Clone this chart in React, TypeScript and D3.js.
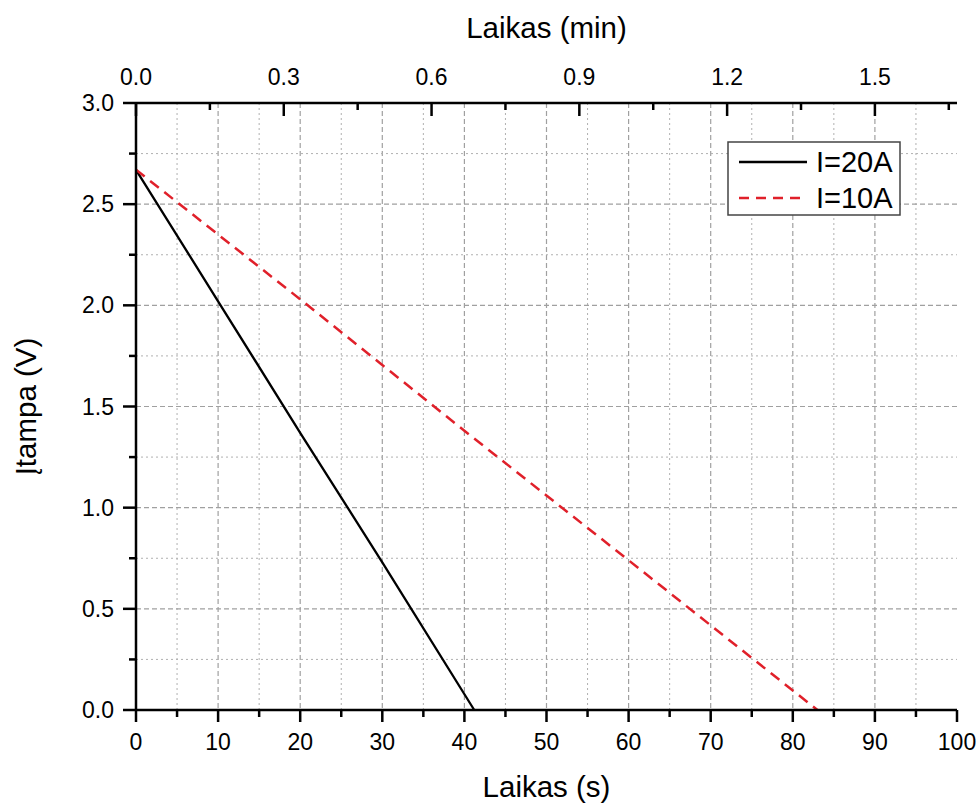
import React from "react";
import * as d3 from "d3";

const seriesNames = ["I=20A", "I=10A"];
const time20A = [0, 10, 20, 30, 41.2];
const volt20A = [2.67, 2.02, 1.37, 0.73, 0.0];
const time10A = [0, 20, 40, 60, 83.0];
const volt10A = [2.67, 2.03, 1.38, 0.74, 0.0];

const xMajorTicks = [0, 10, 20, 30, 40, 50, 60, 70, 80, 90, 100];
const xMinorTicks = [5, 15, 25, 35, 45, 55, 65, 75, 85, 95];
const yMajorTicks = [0, 0.5, 1.0, 1.5, 2.0, 2.5, 3.0];
const yMinorTicks = [0.25, 0.75, 1.25, 1.75, 2.25, 2.75];
const topMajorTicks = [0, 0.3, 0.6, 0.9, 1.2, 1.5];
const topMinorTicks = [0.15, 0.45, 0.75, 1.05, 1.35, 1.65];

const W = 979;
const H = 805;
const left = 136;
const right = 957;
const top = 103;
const bottom = 710;
const FONT = "'Liberation Sans', Arial, sans-serif";

export default function App() {
  const x = d3.scaleLinear().domain([0, 100]).range([left, right]);
  const xMin = d3.scaleLinear().domain([0, 100 / 60]).range([left, right]);
  const y = d3.scaleLinear().domain([0, 3]).range([bottom, top]);
  const line = d3
    .line<[number, number]>()
    .x((d) => x(d[0]))
    .y((d) => y(d[1]));
  const d20 = time20A.map((t, i) => [t, volt20A[i]] as [number, number]);
  const d10 = time10A.map((t, i) => [t, volt10A[i]] as [number, number]);

  return (
    <div style={{ position: "absolute", left: 0, top: 0 }}>
      <svg width={W} height={H} style={{ display: "block", background: "#fff" }} fontFamily={FONT}>
        <rect x={0} y={0} width={W} height={H} fill="#fff" />
        {/* grid */}
        <g>
          {xMinorTicks.map((t) => (
            <line key={"gxm" + t} x1={x(t)} x2={x(t)} y1={top} y2={bottom} stroke="#b0b0b0" strokeWidth={1} strokeDasharray="2,3" />
          ))}
          {xMajorTicks.filter((t) => t > 0 && t < 100).map((t) => (
            <line key={"gxM" + t} x1={x(t)} x2={x(t)} y1={top} y2={bottom} stroke="#a0a0a0" strokeWidth={1.2} strokeDasharray="5,3" />
          ))}
          {yMinorTicks.map((t) => (
            <line key={"gym" + t} x1={left} x2={right} y1={y(t)} y2={y(t)} stroke="#b0b0b0" strokeWidth={1} strokeDasharray="2,3" />
          ))}
          {yMajorTicks.filter((t) => t > 0 && t < 3).map((t) => (
            <line key={"gyM" + t} x1={left} x2={right} y1={y(t)} y2={y(t)} stroke="#a0a0a0" strokeWidth={1.2} strokeDasharray="5,3" />
          ))}
        </g>
        {/* data */}
        <path d={line(d20) || ""} fill="none" stroke="#000" strokeWidth={2.3} />
        <path d={line(d10) || ""} fill="none" stroke="#e0202a" strokeWidth={2.5} strokeDasharray="11,7" />
        {/* axes */}
        <g stroke="#000" strokeWidth={2.5}>
          <line x1={left} x2={right} y1={bottom} y2={bottom} />
          <line x1={left} x2={right} y1={top} y2={top} />
          <line x1={left} x2={left} y1={top} y2={bottom} />
          {xMajorTicks.map((t) => (
            <line key={"bt" + t} x1={x(t)} x2={x(t)} y1={bottom} y2={bottom + 12} />
          ))}
          {xMinorTicks.map((t) => (
            <line key={"btm" + t} x1={x(t)} x2={x(t)} y1={bottom} y2={bottom + 7} />
          ))}
          {yMajorTicks.map((t) => (
            <line key={"lt" + t} x1={left - 13} x2={left} y1={y(t)} y2={y(t)} />
          ))}
          {yMinorTicks.map((t) => (
            <line key={"ltm" + t} x1={left - 7} x2={left} y1={y(t)} y2={y(t)} />
          ))}
          {topMajorTicks.map((t) => (
            <line key={"tt" + t} x1={xMin(t)} x2={xMin(t)} y1={top} y2={top + 13} />
          ))}
          {topMinorTicks.map((t) => (
            <line key={"ttm" + t} x1={xMin(t)} x2={xMin(t)} y1={top} y2={top + 7} />
          ))}
        </g>
        {/* tick labels */}
        <g fontSize={23} fill="#000">
          {xMajorTicks.map((t) => (
            <text key={"bl" + t} x={x(t)} y={bottom + 40} textAnchor="middle">{t}</text>
          ))}
          {yMajorTicks.map((t) => (
            <text key={"ll" + t} x={left - 22} y={y(t) + 8} textAnchor="end">{t.toFixed(1)}</text>
          ))}
          {topMajorTicks.map((t) => (
            <text key={"tl" + t} x={xMin(t)} y={top - 18} textAnchor="middle">{t.toFixed(1)}</text>
          ))}
        </g>
        {/* titles */}
        <g fontSize={29.5} fill="#000">
          <text x={(left + right) / 2} y={797} textAnchor="middle">Laikas (s)</text>
          <text x={(left + right) / 2} y={38} textAnchor="middle">Laikas (min)</text>
          <text transform={`translate(36,${(top + bottom) / 2}) rotate(-90)`} textAnchor="middle">Įtampa (V)</text>
        </g>
        {/* legend */}
        <g>
          <rect x={728} y={142} width={172} height={73} fill="#fff" stroke="#444" strokeWidth={1.5} />
          <line x1={739} x2={807} y1={162} y2={162} stroke="#000" strokeWidth={2.3} />
          <line x1={739} x2={807} y1={198} y2={198} stroke="#e0202a" strokeWidth={2.5} strokeDasharray="10,7" />
          <text x={816} y={172} fontSize={29}>{seriesNames[0]}</text>
          <text x={816} y={208} fontSize={29}>{seriesNames[1]}</text>
        </g>
      </svg>
    </div>
  );
}
